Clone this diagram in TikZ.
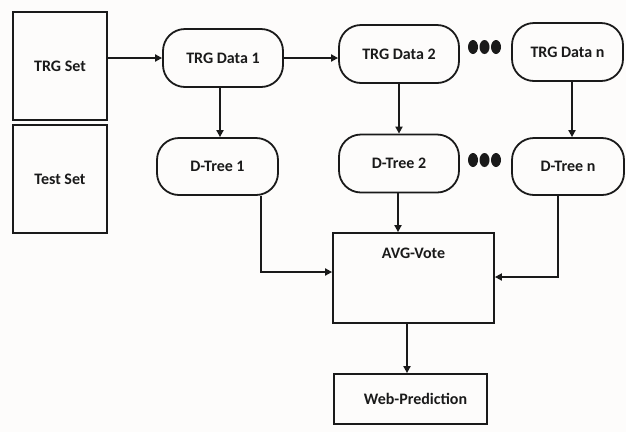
\documentclass[tikz,border=0pt]{standalone}
\usepackage{fontspec}
\setmainfont{Carlito}
\usetikzlibrary{arrows.meta}
\definecolor{ink}{HTML}{1A1A1A}
\definecolor{paper}{HTML}{FDFCFB}
\begin{document}
\begin{tikzpicture}[x=1pt,y=-1pt,
  every node/.style={font=\bfseries\fontsize{16}{18}\selectfont,text=ink},
  setbox/.style={draw=ink,line width=1.8pt,rectangle,minimum width=94pt,minimum height=108pt,inner sep=0pt},
  pill/.style={draw=ink,line width=1.8pt,rectangle,rounded corners=22pt,minimum height=58pt,inner sep=0pt},
  plainbox/.style={draw=ink,line width=1.8pt,rectangle,inner sep=0pt},
  conn/.style={draw=ink,line width=1.8pt,-{Triangle[length=7pt,width=7pt]}},
  dot/.style={fill=ink}]
  % canvas
  \fill[paper] (0,0) rectangle (626,432);
  \useasboundingbox (0,0) rectangle (626,432);

  % data sets
  \node[setbox] (trgset) at (60,66) {TRG Set};
  \node[setbox] (testset) at (60,179) {Test Set};

  % bootstrap samples
  \node[pill,minimum width=120pt] (td1) at (223,58) {TRG Data 1};
  \node[pill,minimum width=120pt] (td2) at (399,54) {TRG Data 2};
  \node[pill,minimum width=111pt] (tdn) at (567.5,52) {TRG Data n};

  % trees
  \node[pill,minimum width=121pt,minimum height=57pt] (dt1) at (217.5,166.5) {D-Tree 1};
  \node[pill,minimum width=120pt] (dt2) at (399,163.5) {D-Tree 2};
  \node[pill,minimum width=112pt,minimum height=57pt] (dtn) at (568,166.5) {D-Tree n};

  % voting and output
  \node[plainbox,minimum width=161pt,minimum height=90pt,
        label={[anchor=north,yshift=-12pt]north:AVG-Vote}] (avg) at (413.5,278) {};
  \node[plainbox,minimum width=153pt,minimum height=50pt] (web) at (410.5,399) {\hspace{10pt}Web-Prediction};

  % ellipsis dots
  \foreach \yy in {47,160}{
    \foreach \xx in {473,484.5,496}{
      \fill[dot] (\xx,\yy) ellipse [x radius=5pt,y radius=7pt];
    }
  }

  % connectors
  \draw[conn] (trgset.east |- td1.west) -- (td1.west);
  \draw[conn] (td1.east) -- (td2.west |- td1.east);
  \draw[conn] ([xshift=-3pt]td1.south) -- ([xshift=-3pt]td1.south |- dt1.north);
  \draw[conn] (td2.south) -- (td2.south |- dt2.north);
  \draw[conn] ([xshift=4.5pt]tdn.south) -- ([xshift=4.5pt]tdn.south |- dtn.north);
  \draw[conn] ([xshift=43.5pt]dt1.south) |- ([yshift=6pt]avg.west);
  \draw[conn] ([xshift=-1pt]dt2.south) -- ([xshift=-1pt]dt2.south |- avg.north);
  \draw[conn] ([xshift=-10pt]dtn.south) |- ([yshift=1pt]avg.east);
  \draw[conn] ([xshift=-6.5pt]avg.south) -- ([xshift=-6.5pt]avg.south |- web.north);
\end{tikzpicture}
\end{document}
